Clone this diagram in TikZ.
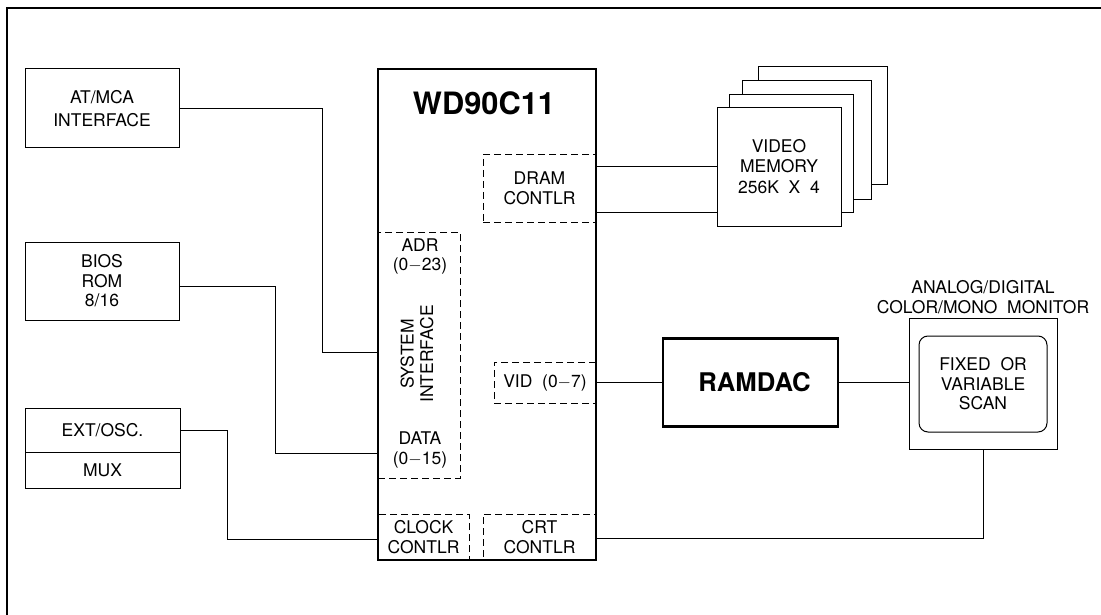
\documentclass[tikz,border=0pt]{standalone}
\usepackage{fontspec}
\setmainfont{TeX Gyre Heros}
\newcommand{\mdash}{\ensuremath{-}}
\begin{document}
\begin{tikzpicture}[x=1pt,y=-1pt,
  lbl/.style={font=\fontsize{17.5}{19.5}\selectfont, align=center, inner sep=0pt},
  box/.style={draw, line width=1pt, inner sep=0pt, fill=white, lbl},
  dbox/.style={draw, line width=1pt, dash pattern=on 7pt off 4pt, inner sep=0pt},
  wire/.style={line width=1pt},
  heavybox/.style={draw, line width=2.6pt, inner sep=0pt}]
\useasboundingbox (0,0) rectangle (1101,615);
\draw[line width=2.4pt] (7,615) -- (7,8) -- (1101,8);

% left boxes
\node[box, minimum width=154pt, minimum height=79pt] (at) at (102,108.5) {AT/MCA\\[4pt]INTERFACE};
\node[box, minimum width=154pt, minimum height=78pt] (bios) at (102,281) {BIOS\\ROM\\8/16};
\node[box, minimum width=155pt, minimum height=44pt] (ext) at (102.5,430) {EXT/OSC.};
\node[box, minimum width=155pt, minimum height=36pt] (mux) at (102.5,470) {MUX};

% chip
\node[heavybox, minimum width=218pt, minimum height=491pt] (chip) at (487,314.5) {};
\node[inner sep=0pt, font=\fontsize{30.8}{32}\selectfont\bfseries] (title) at (484,103) {WD90C11};
\node[dbox, minimum width=113pt, minimum height=67pt, lbl] (dram) at (539.5,188.5) {DRAM\\CONTLR};
\node[dbox, minimum width=82pt, minimum height=246pt] (sysif) at (419,355) {};
\node[lbl] (adr) at (420,256.5) {ADR\\(0\mdash23)};
\node[lbl, rotate=90] (sysname) at (417,354) {SYSTEM\\INTERFACE};
\node[lbl] (data) at (420,450) {DATA\\(0\mdash15)};
\node[dbox, minimum width=102pt, minimum height=41pt, lbl] (vid) at (545,382.5) {VID~~(0\mdash7)};
\node[dbox, minimum width=91pt, minimum height=46pt, lbl] (clock) at (423.5,537) {CLOCK\\CONTLR};
\node[dbox, minimum width=113pt, minimum height=46pt, lbl] (crt) at (539.5,537) {CRT\\CONTLR};

% video memory stack
\node[box, minimum width=129pt, minimum height=118pt] (vm4) at (822.5,126) {};
\node[box, minimum width=129pt, minimum height=119pt] (vm3) at (806.5,140.5) {};
\node[box, minimum width=124pt, minimum height=117pt] (vm2) at (791,153.5) {};
\node[box, minimum width=124pt, minimum height=118pt] (vm1) at (779,167) {VIDEO\\MEMORY\\[2pt]256K~~X~~4};

% RAMDAC
\node[heavybox, minimum width=175pt, minimum height=88pt, font=\fontsize{25.7}{27}\selectfont\bfseries] (ramdac) at (750.5,382.5) {\hspace*{8pt}RAMDAC};

% monitor
\node[draw, line width=1pt, minimum width=148pt, minimum height=131pt, inner sep=0pt] (mon) at (983,383.5) {};
\node[draw, line width=1pt, rounded corners=9pt, minimum width=128pt, minimum height=96pt, lbl] (screen) at (983,384) {FIXED~~OR\\VARIABLE\\SCAN};
\node[lbl, anchor=south] (monlbl) at (983,314) {ANALOG/DIGITAL\\COLOR/MONO~~MONITOR};

% connector end points on the chip edge
\coordinate (sA) at (378,352);
\coordinate (sD) at (378,453);
\coordinate (sC) at (378,539);

% connectors
\draw[wire] (at.east) -| (322,352) -- (sA);
\draw[wire] ([yshift=-5pt]bios.east) -| (275,453) -- (sD);
\draw[wire] (ext.east) -| (227,539) -- (sC);
\draw[wire] ([yshift=21.5pt]dram.east) -- (vm1.west);
\draw[wire] ([yshift=-23.5pt]dram.east) -- ([yshift=-45pt]vm1.west);
\draw[wire] (vid.east) -- (vid.east -| ramdac.west);
\draw[wire] (ramdac.east) -- (ramdac.east -| mon.west);
\draw[wire] ([yshift=-1pt]crt.east) -| (mon.south);
\end{tikzpicture}
\end{document}
